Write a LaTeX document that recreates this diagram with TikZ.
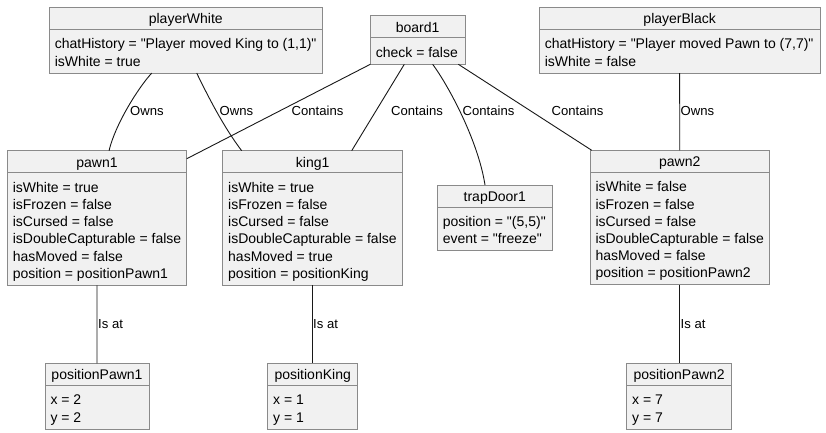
\documentclass[tikz,border=0pt]{standalone}
\usepackage{fontspec}
\setmainfont{Liberation Sans}[Ligatures=TeXOff]
\usetikzlibrary{shapes.multipart}
\definecolor{objfill}{HTML}{F1F1F1}
\definecolor{objline}{HTML}{8A8A8A}
\definecolor{linkcol}{HTML}{181818}
\tikzset{obj/.style={rectangle split, rectangle split parts=2,
    rectangle split part align={center,left}, draw=objline, fill=objfill,
    line width=1pt, inner xsep=5.5pt, inner ysep=0pt, outer sep=0pt,
    anchor=north west, font=\fontsize{14}{17.2}\selectfont}}
\tikzset{link/.style={draw=linkcol, line width=0.9pt}}
\tikzset{lbl/.style={anchor=west, inner sep=0pt, font=\fontsize{13.1}{15}\selectfont}}
\newcommand{\ohead}[1]{\rule[-5pt]{0pt}{21pt}#1}
\newcommand{\obody}[1]{\begin{tabular}{@{}l@{}}\rule{0pt}{19.1pt}#1\rule[-6.5pt]{0pt}{6.5pt}\end{tabular}}

\begin{document}
\begin{tikzpicture}[x=1pt, y=-1pt]
    \path[fill=white] (0,0) rectangle (826,433);
    \useasboundingbox (0,0) rectangle (826,433);
    % objects
    \node[obj, minimum width=273pt] (pW) at (49.3,7.3) {\ohead{playerWhite}\nodepart{two}\obody{chatHistory = "Player moved King to (1,1)"\\ isWhite = true}};
    \node[obj, minimum width=94.7pt] (board) at (370.3,15.7) {\ohead{board1}\nodepart{two}\obody{check = false}};
    \node[obj, minimum width=280.7pt] (pB) at (539.3,7.3) {\ohead{playerBlack}\nodepart{two}\obody{chatHistory = "Player moved Pawn to (7,7)"\\ isWhite = false}};
    \node[obj, minimum width=179.4pt] (pawn1) at (7.3,150.7) {\ohead{pawn1}\nodepart{two}\obody{isWhite = true\\ isFrozen = false\\ isCursed = false\\ isDoubleCapturable = false\\ hasMoved = false\\ position = positionPawn1}};
    \node[obj, minimum width=180pt] (king1) at (222.7,150.7) {\ohead{king1}\nodepart{two}\obody{isWhite = true\\ isFrozen = false\\ isCursed = false\\ isDoubleCapturable = false\\ hasMoved = true\\ position = positionKing}};
    \node[obj, minimum width=115pt] (trap) at (437.3,185) {\ohead{trapDoor1}\nodepart{two}\obody{position = "(5,5)"\\ event = "freeze"}};
    \node[obj, minimum width=179.3pt] (pawn2) at (590,150.3) {\ohead{pawn2}\nodepart{two}\obody{isWhite = false\\ isFrozen = false\\ isCursed = false\\ isDoubleCapturable = false\\ hasMoved = false\\ position = positionPawn2}};
    \node[obj, minimum width=104pt] (posP1) at (45,363.3) {\ohead{positionPawn1}\nodepart{two}\obody{x = 2\\ y = 2}};
    \node[obj, minimum width=90pt] (posK) at (267.7,363.3) {\ohead{positionKing}\nodepart{two}\obody{x = 1\\ y = 1}};
    \node[obj, minimum width=105pt] (posP2) at (626.7,363.3) {\ohead{positionPawn2}\nodepart{two}\obody{x = 7\\ y = 7}};
    % links
    \draw[link] ([xshift=-34.1pt]pW.south) .. controls (138,88) and (115,125) .. ([xshift=12pt]pawn1.north);
    \draw[link] ([xshift=10.9pt]pW.south) .. controls (205,90) and (222,125) .. ([xshift=-71pt]king1.north);
    \draw[link] (board.south west) -- ([yshift=-8pt]pawn1.north east);
    \draw[link] ([xshift=-13.35pt]board.south) -- ([xshift=39pt]king1.north);
    \draw[link] ([xshift=15pt]board.south) .. controls (448,85) and (478,140) .. ([xshift=-9.8pt]trap.north);
    \draw[link] ([xshift=40.7pt]board.south) -- ([xshift=1.7pt]pawn2.north west);
    \draw[link] (pB.south) -- (pawn2.north);
    \draw[link] (pawn1.south) -- (posP1.north);
    \draw[link] (king1.south) -- (posK.north);
    \draw[link] (pawn2.south) -- (pawn2.south |- posP2.north);
    % labels
    \node[lbl] (ownsA) at (130,110.5) {Owns};
    \node[lbl] (ownsB) at (219.4,110.5) {Owns};
    \node[lbl] (contA) at (291.5,110.5) {Contains};
    \node[lbl] (contB) at (391,110.5) {Contains};
    \node[lbl] (contC) at (462.5,110.5) {Contains};
    \node[lbl] (contD) at (551.5,110.5) {Contains};
    \node[lbl] (ownsC) at (680.5,110.5) {Owns};
    \node[lbl] (isatA) at (98,323.8) {Is at};
    \node[lbl] (isatB) at (313,323.8) {Is at};
    \node[lbl] (isatC) at (680.5,323.8) {Is at};
\end{tikzpicture}
\end{document}
